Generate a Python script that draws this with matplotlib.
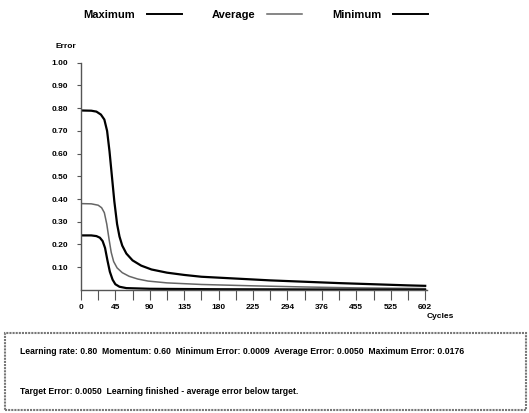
import matplotlib
matplotlib.use("Agg")
import matplotlib.pyplot as plt
from matplotlib.lines import Line2D
from matplotlib.patches import Rectangle

# x positions are in tick-slot units (one slot per labelled tick)
tick_labels = ["0", "45", "90", "135", "180", "225", "294", "376", "455", "525", "602"]
y_ticks = [0.10, 0.20, 0.30, 0.40, 0.50, 0.60, 0.70, 0.80, 0.90, 1.00]

max_x = [0, 0.3, 0.45, 0.58, 0.68, 0.76, 0.83, 0.9, 0.97, 1.05, 1.12, 1.2, 1.32, 1.5,
         1.75, 2.05, 2.5, 3.0, 3.5, 4.5, 5.5, 6.5, 7.5, 8.5, 9.5, 10]
max_err = [0.79, 0.789, 0.785, 0.772, 0.75, 0.70, 0.61, 0.50, 0.39, 0.29, 0.235, 0.195,
           0.16, 0.13, 0.107, 0.09, 0.076, 0.066, 0.058, 0.05, 0.042, 0.036, 0.03, 0.025,
           0.02, 0.018]

avg_x = [0, 0.3, 0.5, 0.6, 0.68, 0.75, 0.82, 0.88, 0.95, 1.05, 1.2, 1.4, 1.65, 1.95, 2.5,
         3.5, 5.0, 6.5, 8.0, 10]
avg_err = [0.38, 0.379, 0.373, 0.362, 0.34, 0.29, 0.22, 0.165, 0.125, 0.097, 0.076, 0.06,
           0.048, 0.039, 0.031, 0.024, 0.018, 0.013, 0.009, 0.006]

min_x = [0, 0.3, 0.45, 0.55, 0.63, 0.7, 0.77, 0.84, 0.92, 1.0, 1.12, 1.32, 2.0, 4.0, 7.0, 10]
min_err = [0.24, 0.24, 0.237, 0.23, 0.215, 0.185, 0.13, 0.08, 0.045, 0.025, 0.014, 0.008,
           0.005, 0.003, 0.002, 0.001]

info_line1 = ("Learning rate: 0.80  Momentum: 0.60  Minimum Error: 0.0009  "
              "Average Error: 0.0050  Maximum Error: 0.0176")
info_line2 = "Target Error: 0.0050  Learning finished - average error below target."

FONT = ["Liberation Sans Narrow", "DejaVu Sans Condensed", "Liberation Sans", "DejaVu Sans"]
plt.rcParams["font.family"] = FONT
plt.rcParams["font.weight"] = "bold"

fig = plt.figure(figsize=(5.29, 4.13), dpi=100)
ax = fig.add_axes([0.153, 0.298, 0.654, 0.55])

ax.plot(max_x, max_err, color="black", lw=1.6, label="Maximum")
ax.plot(avg_x, avg_err, color="#666666", lw=1.1, label="Average")
ax.plot(min_x, min_err, color="black", lw=1.6, label="Minimum")

ax.set_xlim(0, 10.05)
ax.set_ylim(0, 1.0)
ax.set_xticks(range(len(tick_labels)))
ax.set_xticklabels(tick_labels, fontsize=6, fontweight="bold")
ax.set_xticks([i + 0.5 for i in range(len(tick_labels) - 1)], minor=True)
ax.set_yticks(y_ticks)
ax.set_yticklabels([f"{v:.2f}" for v in y_ticks], fontsize=6, fontweight="bold")
ax.tick_params(axis="x", which="both", length=7, width=0.8, color="#555555", pad=3)
ax.tick_params(axis="y", length=3, width=0.8, color="#555555", pad=6)

for side in ["top", "right"]:
    ax.spines[side].set_visible(False)
for side in ["left", "bottom"]:
    ax.spines[side].set_color("#555555")
    ax.spines[side].set_linewidth(1.0)

fig.text(55 / 529, 1 - 47 / 413, "Error", fontsize=6, fontweight="bold", ha="left", va="center")
fig.text(427 / 529, 1 - 316 / 413, "Cycles", fontsize=6, fontweight="bold", ha="left", va="center")

# legend: label first, then line
handles = [Line2D([], [], color="black", lw=1.4),
           Line2D([], [], color="#666666", lw=1.1),
           Line2D([], [], color="black", lw=1.4)]
fig.legend(handles, ["Maximum", "Average", "Minimum"], loc="center",
           bbox_to_anchor=(256 / 529, 1 - 15 / 413), ncol=3, markerfirst=False,
           frameon=False, prop={"weight": "bold", "size": 8},
           handlelength=3.2, columnspacing=2.7, handletextpad=1.0)

# info box at the bottom
box = Rectangle((5 / 529, 3 / 413), 521 / 529, 77 / 413, transform=fig.transFigure,
                fill=False, edgecolor="#777777", lw=1.5, ls=(0, (1, 0.5)))
fig.patches.append(box)
fig.text(20 / 529, 1 - 351 / 413, info_line1, fontsize=6.2, fontweight="bold",
         ha="left", va="center")
fig.text(20 / 529, 1 - 391 / 413, info_line2, fontsize=6.2, fontweight="bold",
         ha="left", va="center")

fig.savefig("out.png", dpi=100)
